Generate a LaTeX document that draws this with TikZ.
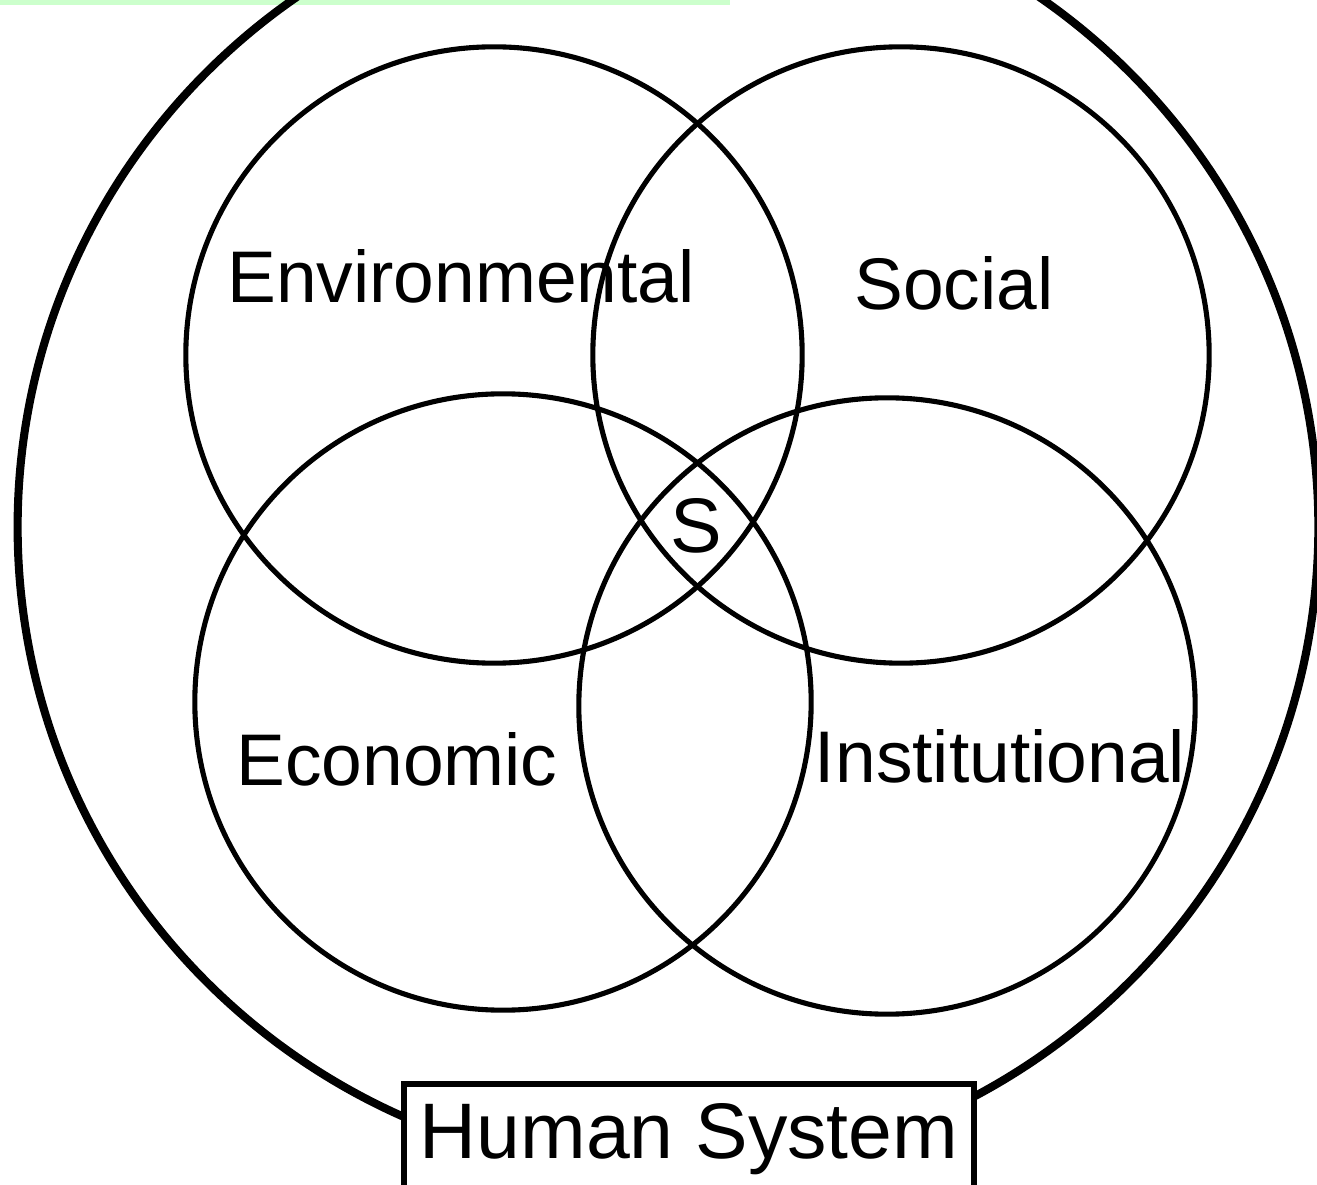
\documentclass[tikz,border=0pt]{standalone}
\usepackage{fontspec}
\setmainfont{Liberation Sans}
\usepackage{tikz}
\usetikzlibrary{shapes.geometric}

\definecolor{stripgreen}{HTML}{CCFFCC}

\tikzset{
   ring/.style={draw, circle, line width=1.45pt, minimum size=6.16cm, inner sep=0pt},
   pillar/.style={anchor=base, inner sep=0pt, font=\fontsize{20.8}{25}\selectfont},
}

\begin{document}
\begin{tikzpicture}[x=0.01cm, y=-0.01cm]
   \useasboundingbox (0,0) rectangle (1317,1185);
   \clip (0,0) rectangle (1317,1185);

   % light strip along the top edge
   \fill[stripgreen] (0,0) rectangle (730,5);

   % the whole system, cut by the page
   \node[draw, ellipse, line width=2.3pt, minimum width=13cm,
      minimum height=12.9cm, inner sep=0pt] (sys) at (668,527) {};

   % the four overlapping circles
   \foreach \name/\x/\y in {env/494/355, soc/901/355, eco/503/702, inst/887/706}
   \node[ring] (\name) at (\x,\y) {};

   % names of the circles
   \node[pillar] (envtext) at (461,303) {Environmental};
   \node[pillar] (soctext) at (954,310) {Social};
   \node[pillar] (ecotext) at (397,785) {Economic};
   \node[pillar] (insttext) at (1000,782) {Institutional};

   % centre, where all four meet
   \node[pillar, font=\fontsize{22}{26}\selectfont] (s) at (696,553) {S};

   % box over the bottom of the outer ring
   \node[draw, fill=white, line width=1.7pt, minimum width=5.7cm, minimum height=1.1cm,
      inner sep=0pt, font=\fontsize{22.4}{27}\selectfont] (human) at (689,1139) {Human System};
\end{tikzpicture}
\end{document}
